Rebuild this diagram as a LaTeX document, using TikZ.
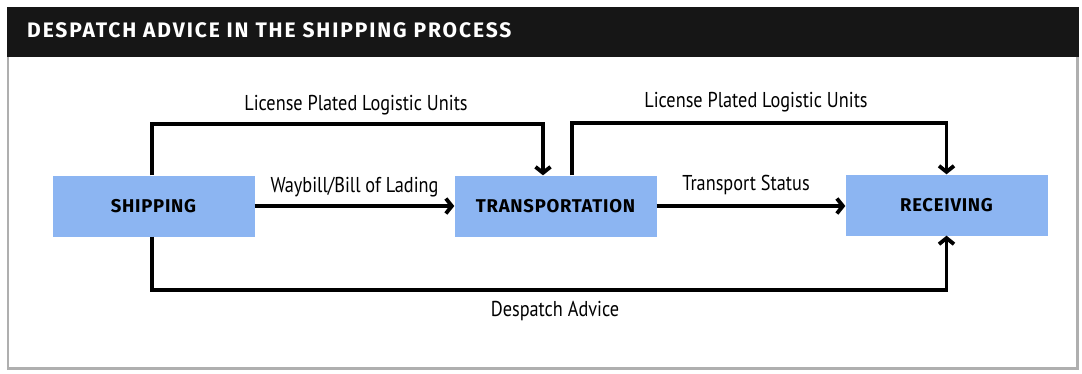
\documentclass[tikz,border=0pt]{standalone}
\usepackage{fontspec}
\setmainfont{PT Sans}[FakeStretch=0.85]
\newfontfamily\heavy{Fira Sans}[LetterSpace=4]
\newfontfamily\heading{Fira Sans}[LetterSpace=9]
\usetikzlibrary{arrows.meta}
\definecolor{boxblue}{RGB}{140,181,242}
\definecolor{framegrey}{RGB}{175,175,175}
\definecolor{barblack}{RGB}{22,22,22}
\tikzset{
  stage/.style={fill=boxblue, minimum width=202pt, minimum height=61pt, inner sep=0pt,
    font=\heavy\fontsize{18.5}{21}\selectfont\bfseries},
  flow/.style={line width=3.8pt, line join=miter, -{Straight Barb[length=6pt,width=15pt]}},
  lbl/.style={inner sep=0pt, font=\fontsize{21.5}{24}\selectfont},
}
\begin{document}
\begin{tikzpicture}[x=1pt,y=-1pt]
\useasboundingbox (0,0) rectangle (1082,373);
\fill[white] (0,0) rectangle (1082,373);
% title bar and panel frame
\fill[barblack] (7,7) rectangle (1079,57);
\node[anchor=west, text=white, inner sep=0pt, font=\heading\fontsize{21}{24}\selectfont\bfseries]
  (title) at (27,30.5) {DESPATCH ADVICE IN THE SHIPPING PROCESS};
\draw[framegrey, line width=2.5pt] (8,57) -- (8,368.5) -- (1077.5,368.5) -- (1077.5,57);
% process stages
\node[stage] (ship)  at (153.5,206) {SHIPPING};
\node[stage] (trans) at (555.5,206) {TRANSPORTATION};
\node[stage] (recv)  at (946.5,205) {RECEIVING};
% message flows
\draw[flow] ([xshift=-1.5pt]ship.north) -- ([xshift=-1.5pt]ship.north |- 0,124)
  -| ([xshift=-12.5pt]trans.north);
\draw[flow] ([xshift=16.5pt]trans.north) -- ([xshift=16.5pt]trans.north |- 0,123)
  -| (recv.north);
\draw[flow] (ship.east) -- (trans.west);
\draw[flow] (trans.east) -- (trans.east -| recv.west);
\draw[flow] ([xshift=-1.5pt]ship.south) -- ([xshift=-1.5pt]ship.south |- 0,290)
  -| (recv.south);
% flow labels
\node[lbl] (l1) at (356,105) {License Plated Logistic Units};
\node[lbl] (l2) at (756,102) {License Plated Logistic Units};
\node[lbl] (l3) at (354.5,187) {Waybill/Bill of Lading};
\node[lbl] (l4) at (746,184.5) {Transport Status};
\node[lbl] (l5) at (555,310.5) {Despatch Advice};
\end{tikzpicture}
\end{document}
